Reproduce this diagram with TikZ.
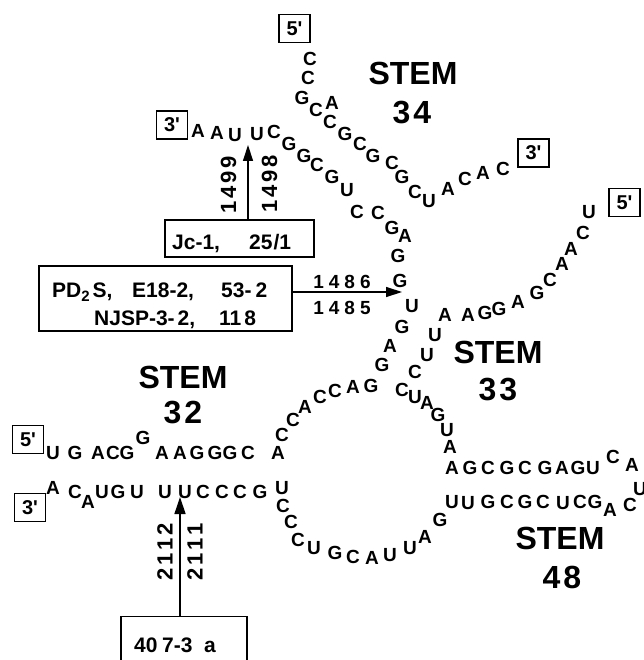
\documentclass[tikz,border=0pt]{standalone}
\usepackage{fontspec}
\setmainfont{Liberation Sans}
\usetikzlibrary{arrows.meta}
\newcommand\strand[2]{%
  \foreach \cc/\xx/\yy [count=\i] in {#2} {\node[nt] (#1-\i) at (\xx,\yy) {\cc};}}
\newcommand\qs{\textquotesingle}
\tikzset{
  nt/.style={font=\fontsize{19}{19}\selectfont\bfseries, inner sep=0pt},
  stemlab/.style={font=\fontsize{32}{32}\selectfont\bfseries, inner sep=0pt},
  endbox/.style={draw, line width=1.3pt, font=\fontsize{20}{20}\selectfont\bfseries,
    minimum width=31pt, minimum height=28pt, inner sep=0pt},
  lbox/.style={draw, line width=1.2pt, inner sep=0pt},
  lt/.style={font=\fontsize{21}{21}\selectfont\bfseries, inner sep=0pt, anchor=base west},
  hnum/.style={font=\fontsize{19}{19}\selectfont\bfseries, inner sep=0pt},
  vnum/.style={font=\fontsize{22}{22}\selectfont\bfseries, inner sep=0pt, rotate=90},
  arr/.style={line width=1.3pt, -{Triangle[length=16pt,width=10pt]}}
}
\begin{document}
\begin{tikzpicture}[x=1pt,y=-1pt]
\path[fill=white] (0,0) rectangle (643,660);
\useasboundingbox (0,0) rectangle (643,660);

% stem 34, 5' strand
\strand{a}{C/310/59, C/308/78, G/302/98, C/316/110, A/332/103, C/330/122, G/345/134,
  C/360/144, G/373/156, C/392/163, G/402/177, C/415/192, U/429/201, A/448/189,
  C/465/179, A/483/173, C/503/169}
% long strand from 3' (top left) to 5' (stem 32)
\strand{b}{A/198/131, A/217/133, U/235/135, U/257/134, C/274/132, G/289/144, G/304/156,
  C/317/165, G/332/177, U/347/190, C/357/212, C/378/213, G/392/228, A/405/236,
  G/398/256, G/400/281, U/412/306, G/402/327, A/390/346, G/382/365, G/371/386,
  A/353/387, C/335/391, C/320/397, A/305/407, C/293/420, C/282/435, A/278/453,
  C/248/453, G/230/453, G/215/453, G/197/453, A/180/453, A/162/453, G/143/438,
  G/127/453, C/113/453, A/98/453, G/75/453, U/53/453}
% strand from 3' (stem 32) to 5' (stem 33)
\strand{c}{A/53/488, C/75/492, A/88/502, U/102/492, G/118/492, U/137/492, U/165/492,
  U/185/492, C/203/492, C/222/492, C/240/492, G/260/492, U/282/488, C/283/506,
  C/291/522, C/298/540, U/314/548, G/335/553, C/353/557, A/372/558, U/390/555,
  U/410/548, A/425/537, G/440/520, U/452/502, U/468/503, G/488/502, C/507/502,
  G/525/502, C/543/502, U/563/503, C/580/502, G/595/502, A/610/510, C/630/505,
  U/640/489, A/632/465, C/613/457, U/593/468, G/578/468, A/562/468, G/545/468,
  C/525/468, G/507/468, C/488/468, G/470/468, A/452/468, A/450/447, U/447/430,
  G/438/415, A/427/403, U/415/397, C/402/390, C/415/372, U/427/355, U/435/335,
  A/445/315, A/468/315, G/485/313, G/499/309, A/518/302, G/537/293, C/550/280,
  A/562/264, A/571/249, C/583/233, U/589/212}

% end boxes
\node[endbox] (e5top) at (294.5,28.5) {5\qs};
\node[endbox] (e3top) at (172,125) {3\qs};
\node[endbox] (e3right) at (533.5,153) {3\qs};
\node[endbox] (e5right) at (624.5,202.5) {5\qs};
\node[endbox] (e5left) at (28,439.5) {5\qs};
\node[endbox] (e3left) at (30,507.5) {3\qs};

% stem labels
\node[stemlab] (stem34) at (413,73) {STEM};
\node[stemlab] (num34) at (412,113) {3\kern3pt4};
\node[stemlab] (stem33) at (498,352) {STEM};
\node[stemlab] (num33) at (498,390) {3\kern3pt3};
\node[stemlab] (stem32) at (183,377) {STEM};
\node[stemlab] (num32) at (183,413) {3\kern3pt2};
\node[stemlab] (stem48) at (560,538) {STEM};
\node[stemlab] (num48) at (562,577) {4\kern3pt8};

% Jc box
\node[lbox, minimum width=149pt, minimum height=37pt] (jc) at (239.5,238.5) {};
\node[lt] (jc1) at (172,249) {Jc-1,};
\node[lt] (jc2) at (249,249) {25\kern1pt/1};

% PD box
\node[lbox, minimum width=253pt, minimum height=65pt] (pd) at (165.5,298.5) {};
\node[lt] (pd1) at (52,297) {PD\raisebox{-4pt}{\fontsize{15}{15}\selectfont 2}\kern3pt S,};
\node[lt] (pd2) at (132,297) {E18-2,};
\node[lt] (pd3) at (221,297) {53-\kern4pt2};
\node[lt] (pd4) at (94,325) {NJSP-3-\kern3pt2,};
\node[lt] (pd5) at (219,325) {11\kern3pt8};

% bottom box
\node[lbox, minimum width=126pt, minimum height=64pt, anchor=north] (b407) at (184,616) {};
\node[lt] (t40) at (134,652) {40};
\node[lt] (t73) at (162,652) {7-3};
\node[lt] (ta) at (204,652) {a};

% arrows
\coordinate (tipA) at (248,145);
\coordinate (tipB) at (402,292);
\coordinate (tipC) at (180,497);
\draw[arr] (jc.north -| tipA) -- (tipA);
\draw[arr] (pd.east |- tipB) -- (tipB);
\draw[arr, -{Triangle[length=17pt,width=11pt]}] (b407.north -| tipC) -- (tipC);

% position labels
\node[vnum] (l1499) at (228.5,185) {1\kern3pt4\kern3pt9\kern3pt9};
\node[vnum] (l1498) at (269.5,184) {1\kern3pt4\kern3pt9\kern3pt8};
\node[hnum] (l1486) at (342,282) {1\kern5pt4\kern5pt8\kern5pt6};
\node[hnum] (l1485) at (342,308) {1\kern5pt4\kern5pt8\kern5pt5};
\node[vnum] (l2112) at (165,552) {2\kern3pt1\kern3pt1\kern3pt2};
\node[vnum] (l2111) at (195,552) {2\kern3pt1\kern3pt1\kern3pt1};
\end{tikzpicture}
\end{document}
